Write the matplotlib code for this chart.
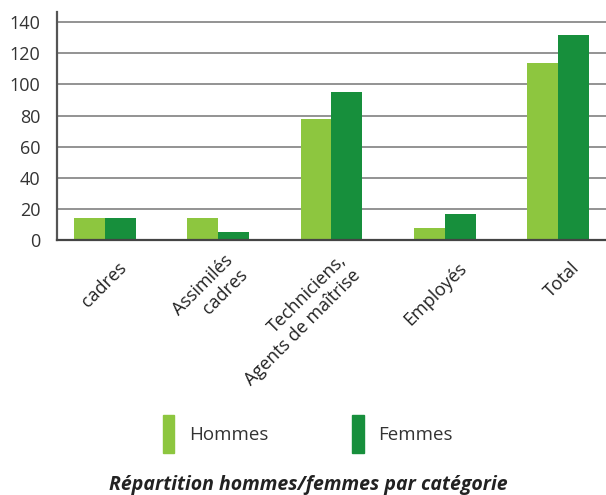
import numpy as np
import matplotlib.pyplot as plt
from matplotlib.patches import Patch
from matplotlib.transforms import ScaledTranslation

plt.rcParams['font.family'] = ['Open Sans', 'DejaVu Sans']

# données
categories = ["cadres", "Assimilés\ncadres", "Techniciens,\nAgents de maîtrise", "Employés", "Total"]
hommes = [14, 14, 78, 8, 114]
femmes = [14, 5, 95, 17, 132]
yticks = [0, 20, 40, 60, 80, 100, 120, 140]

vert_clair = "#8dc63f"
vert_fonce = "#178f3c"

fig = plt.figure(figsize=(6.06, 4.95), dpi=100)
ax = fig.add_axes([0.094, 0.515, 0.906, 0.461])

x = np.arange(len(categories))
w = 0.272
ax.bar(x - w/2, hommes, w, color=vert_clair, zorder=3)
ax.bar(x + w/2, femmes, w, color=vert_fonce, zorder=3)

ax.set_xlim(-0.424, 4.424)
ax.set_ylim(0, 146.6)
ax.set_yticks(yticks)
ax.tick_params(axis='y', length=0, pad=12, labelsize=13, labelcolor='#333333')
ax.grid(axis='y', color='#8a8a8a', linewidth=1.3, zorder=0)
for s in ['top', 'right']:
    ax.spines[s].set_visible(False)
ax.spines['left'].set_color('#555555')
ax.spines['left'].set_linewidth(1.6)
ax.spines['bottom'].set_color('#444444')
ax.spines['bottom'].set_linewidth(1.6)
ax.spines['bottom'].set_zorder(4)

# étiquettes inclinées
ax.set_xticks([])
decal = ScaledTranslation(0.19, -0.25, fig.dpi_scale_trans)
for xp, lab in zip(x, categories):
    ax.text(xp, 0, lab, transform=ax.get_xaxis_transform() + decal, rotation=45,
            rotation_mode='anchor', ha='right', va='center', multialignment='right',
            fontsize=13, color='#222222')

handles = [Patch(color=vert_clair, label="Hommes"), Patch(color=vert_fonce, label="Femmes")]
fig.legend(handles=handles, loc='center', bbox_to_anchor=(0.508, 0.123), ncol=2,
           frameon=False, fontsize=13.5, handlelength=0.59, handleheight=2.75,
           handletextpad=0.8, columnspacing=4.5, labelcolor='#333333')

fig.text(0.508, 0.02, "Répartition hommes/femmes par catégorie", ha='center', va='center',
         fontsize=14, fontweight='bold', fontstyle='italic', color='#222222')

fig.savefig("out.png", dpi=100)
